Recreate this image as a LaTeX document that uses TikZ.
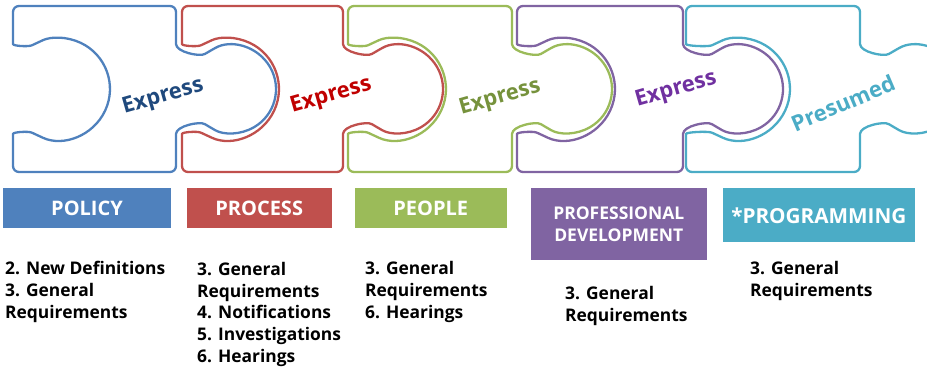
\documentclass[tikz,border=0pt]{standalone}
\usepackage{fontspec}
\setmainfont{Open Sans}

\definecolor{PolicyBlue}{HTML}{4F81BD}
\definecolor{ProcessRed}{HTML}{C0504D}
\definecolor{PeopleGreen}{HTML}{9BBB59}
\definecolor{ProfPurple}{HTML}{8064A2}
\definecolor{ProgAqua}{HTML}{4BACC6}
\definecolor{ExpBlue}{HTML}{1F497D}
\definecolor{ExpRed}{HTML}{C00000}
\definecolor{ExpGreen}{HTML}{76923C}
\definecolor{ExpPurple}{HTML}{7030A0}

\tikzset{
  piece/.style={line width=2.3, rounded corners=6},
  expr/.style={font=\bfseries\fontsize{22}{26}\selectfont, inner sep=0},
  catbox/.style={text=white, inner sep=0, align=center,
    font=\bfseries\fontsize{20}{22}\selectfont},
  itemlist/.style={anchor=base west, align=left, inner sep=0,
    font=\bfseries\fontsize{17.4}{22}\selectfont}
}

% #1 left edge, #2 right edge, #3 socket centre offset, #4 colour
\newcommand{\PuzzlePiece}[4]{%
  \draw[piece,#4] (#1,38) -- (#1,6) -- (#2,6) -- (#2,38)
    .. controls (#2,52) and ({#2+23.6},57) .. ({#2+34},51)
    arc[start angle=240,end angle=480,radius=44]
    .. controls ({#2+23.6},121) and (#2,126) .. (#2,140)
    -- (#2,172) -- (#1,172) -- (#1,140)
    .. controls (#1,132) and ({#1+#3-30.7},131) .. ({#1+#3-21.6},135.2)
    arc[start angle=115,end angle=-115,radius=51]
    .. controls ({#1+#3-30.7},47) and (#1,46) .. cycle;}

\begin{document}
\begin{tikzpicture}[x=1pt,y=-1pt]

  \useasboundingbox (0,0) rectangle (927,371);
  \clip (0,0) rectangle (927,371);

  \PuzzlePiece{13}{176}{46}{PolicyBlue}
  \PuzzlePiece{182}{343}{46}{ProcessRed}
  \PuzzlePiece{348}{512}{47}{PeopleGreen}
  \PuzzlePiece{517}{683}{47}{ProfPurple}
  \PuzzlePiece{686}{860}{53}{ProgAqua}

  \node[expr,text=ExpBlue,rotate=16] (PolicyExpress) at (163,97) {Express};
  \node[expr,text=ExpRed,rotate=16] (ProcessExpress) at (331,96) {Express};
  \node[expr,text=ExpGreen,rotate=16] (PeopleExpress) at (500,98) {Express};
  \node[expr,text=ExpPurple,rotate=16] (ProfExpress) at (676,90) {Express};
  \node[expr,text=ProgAqua,rotate=23] (ProgPresumed) at (843,103) {Presumed};

  \node[catbox,fill=PolicyBlue,minimum width=168,minimum height=40]
    (PolicyBox) at (87,208.3) {POLICY};
  \node[catbox,fill=ProcessRed,minimum width=145,minimum height=40]
    (ProcessBox) at (259.2,208.3) {PROCESS};
  \node[catbox,fill=PeopleGreen,minimum width=152,minimum height=40]
    (PeopleBox) at (430.8,208.3) {PEOPLE};
  \node[catbox,fill=ProfPurple,minimum width=176,minimum height=72,
    font=\bfseries\fontsize{17.5}{21.7}\selectfont]
    (ProfBox) at (618.8,224.2) {PROFESSIONAL\\DEVELOPMENT};
  \node[catbox,fill=ProgAqua,minimum width=192,minimum height=54,
    font=\bfseries\fontsize{20.7}{22}\selectfont]
    (ProgBox) at (818.8,215.5) {*PROGRAMMING};

  % base anchor sits on the last line
  \node[itemlist] (PolicyList) at (5,319)
    {2. New Definitions\\3. General\\Requirements};
  \node[itemlist] (ProcessList) at (197,363)
    {3. General\\Requirements\\4. Notifications\\5. Investigations\\6. Hearings};
  \node[itemlist] (PeopleList) at (365,319)
    {3. General\\Requirements\\6. Hearings};
  \node[itemlist] (ProfList) at (565,321.5)
    {3. General\\Requirements};
  \node[itemlist] (ProgList) at (750,297)
    {3. General\\Requirements};

\end{tikzpicture}
\end{document}
